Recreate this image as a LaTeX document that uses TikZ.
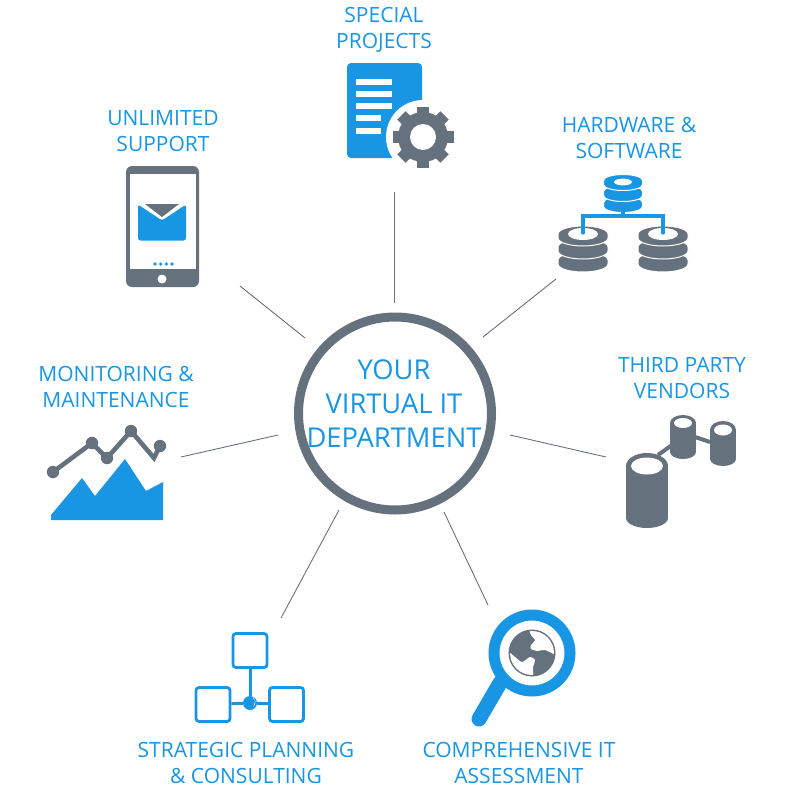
\documentclass[tikz,border=0pt]{standalone}
\usepackage{fontspec}
\setmainfont{Open Sans}
\definecolor{itblue}{HTML}{1895E3}
\definecolor{itgray}{HTML}{66717E}
\tikzset{>=stealth,
    label/.style={align=center, text=itblue, font=\fontsize{21}{26}\selectfont, inner sep=0pt},
    spoke/.style={draw=itgray, line width=0.9pt},
    orgbox/.style={draw=itblue, line width=2.8pt, rounded corners=3pt, minimum size=34pt, inner sep=0pt},
    orgline/.style={draw=itblue, line width=3pt}
}
% one stack of three disks: x, top y, half width, half height, step, colour
\newcommand{\diskstack}[6]{
    \foreach \n in {2,1,0} {
        \filldraw[fill=#6, draw=white, line width=1pt] (#1-#3,#2+\n*#5-2) arc (180:360:#3 and #4) -- (#1+#3,#2+\n*#5+2) arc (0:180:#3 and #4) -- cycle;
    }
}
\begin{document}
\begin{tikzpicture}[x=1pt, y=-1pt]
    \useasboundingbox (0,0) rectangle (790,790);

    % centre
    \node[circle, draw=itgray, line width=9pt, minimum size=193pt, inner sep=0pt] (hub) at (395,413.5) {};
    \node[align=center, inner sep=0pt, text=itblue, font=\fontsize{27.3}{34}\selectfont] (hubtext) at (394,404) {YOUR\\VIRTUAL IT\\DEPARTMENT};

    % spokes
    \coordinate (topin) at (394,303);
    \coordinate (topout) at (394,192);
    \coordinate (hwin) at (483,337);
    \coordinate (hwout) at (556,279);
    \coordinate (tpin) at (510,435);
    \coordinate (tpout) at (606,457);
    \coordinate (asin) at (444,512);
    \coordinate (asout) at (488,605);
    \coordinate (stin) at (339,510);
    \coordinate (stout) at (281,618);
    \coordinate (moin) at (278,435);
    \coordinate (moout) at (181,457);
    \coordinate (unin) at (305,338);
    \coordinate (unout) at (240,286);
    \draw[spoke] (topin) -- (topout);
    \draw[spoke] (hwin) -- (hwout);
    \draw[spoke] (tpin) -- (tpout);
    \draw[spoke] (asin) -- (asout);
    \draw[spoke] (stin) -- (stout);
    \draw[spoke] (moin) -- (moout);
    \draw[spoke] (unin) -- (unout);

    % labels
    \node[label] (special) at (384,30) {SPECIAL\\PROJECTS};
    \node[label] (unlimited) at (163,131) {UNLIMITED\\SUPPORT};
    \node[label] (hardware) at (629,138) {HARDWARE \&\\SOFTWARE};
    \node[label] (third) at (682,378) {THIRD PARTY\\VENDORS};
    \node[label] (monitoring) at (116,387) {MONITORING \&\\MAINTENANCE};
    \node[label] (strategic) at (246,763) {STRATEGIC PLANNING\\\& CONSULTING};
    \node[label] (comprehensive) at (519,763) {COMPREHENSIVE IT\\ASSESSMENT};

    % document and gear
    \fill[itblue, rounded corners=4pt] (347,63) rectangle (422,158);
    \foreach \y in {82,94,106} {
        \fill[white] (356,\y-2.7) rectangle (392,\y+2.7);
    }
    \foreach \y in {118,131} {
        \fill[white] (356,\y-2.7) rectangle (381,\y+2.7);
    }
    \fill[white] (423,137) circle (37);
    \fill[itgray] (423,137) circle (25);
    \foreach \a in {0,45,...,315} {
        \fill[itgray, rotate around={\a:(423,137)}] (417,106.5) rectangle (429,120);
    }
    \fill[white] (423,137) circle (13);

    % disks
    \diskstack{623}{182.5}{19.5}{6}{11}{itblue}
    \fill[white] (623,182) ellipse (9 and 3.4);
    \diskstack{583}{236}{25}{8}{13}{itgray}
    \diskstack{663}{236}{25}{8}{13}{itgray}
    \fill[white] (583,234) ellipse (15 and 6);
    \fill[white] (663,234) ellipse (15 and 6);
    \draw[itblue, line width=3.2pt, line cap=round] (583,233) -- (583,216) -- (663,216) -- (663,233);
    \draw[itblue, line width=3.2pt] (623,210) -- (623,216);

    % phone
    \fill[itgray, rounded corners=6pt] (126,166) rectangle (199,287);
    \fill[white] (129.5,174) rectangle (195.5,269);
    \fill[white] (162,279) circle (4.5);
    \fill[itgray] (145,204) -- (179,204) -- (162,217) -- cycle;
    \fill[itblue, rounded corners=2.5pt] (138,204.5) -- (162,220.5) -- (186,204.5) -- (186,240.5) -- (138,240.5) -- cycle;
    \foreach \x in {155,160.7,166.4,172} {
        \fill[itblue] (\x,264) circle (1.8);
    }

    % chart
    \fill[itblue] (51,520) -- (51,515) -- (82,478) -- (95,496) -- (125,459) -- (146,491) -- (163,482) -- (163,520) -- cycle;
    \draw[itgray, line width=4.6pt] (53,472) -- (92,443) -- (107,458) -- (131,431) -- (154,458) -- (160,446);
    \foreach \p in {(53,472),(92,443),(107,458),(131,431),(160,446)} {
        \fill[itgray] \p circle (6.2);
    }

    % cylinders
    \draw[itgray, line width=4pt] (658,455) -- (672,445);
    \draw[itgray, line width=4pt] (695,437) -- (710,442);
    \fill[itgray] (626,466) rectangle (668,518);
    \fill[itgray] (647,466) ellipse (21 and 13);
    \fill[itgray] (647,518) ellipse (21 and 10);
    \fill[white] (647,466) ellipse (16 and 8.5);
    \fill[itgray] (670,423) rectangle (696,452);
    \fill[itgray] (683,423) ellipse (13 and 8);
    \fill[itgray] (683,452) ellipse (13 and 7);
    \fill[white] (683,423) ellipse (9 and 5);
    \fill[itgray] (710,430) rectangle (736,459);
    \fill[itgray] (723,430) ellipse (13 and 9);
    \fill[itgray] (723,459) ellipse (13 and 7);
    \fill[white] (723,430) ellipse (9 and 5.5);

    % magnifier
    \draw[itblue, line width=15pt, line cap=round] (500,683) -- (479,719);
    \draw[itblue, line width=11pt, fill=white] (532,653) circle (38);
    \fill[itgray] (532,653) circle (23.5);
    \begin{scope}
        \clip (532,653) circle (22);
        \fill[white] plot[smooth cycle, tension=0.5] coordinates {(532,630) (562,628) (563,656) (545,650) (538,651) (531,649) (531,645) (535,640) (531,635)};
        \fill[white] plot[smooth cycle, tension=0.5] coordinates {(508,654) (515,657) (522,662) (530,657) (535,660) (533,667) (531,678) (504,682)};
    \end{scope}

    % boxes
    \node[orgbox] (orgtop) at (250,650.5) {};
    \node[orgbox] (orgleft) at (213,704.5) {};
    \node[orgbox] (orgright) at (286.5,704.5) {};
    \node[circle, fill=itblue, minimum size=14pt, inner sep=0pt] (orgmid) at (250,703) {};
    \draw[orgline] (orgtop) -- (orgmid);
    \draw[orgline] (orgleft) -- (orgmid);
    \draw[orgline] (orgright) -- (orgmid);
    \fill[white] (253,698) arc (-60:60:5) arc (40:-40:7.8) -- cycle;
\end{tikzpicture}
\end{document}
